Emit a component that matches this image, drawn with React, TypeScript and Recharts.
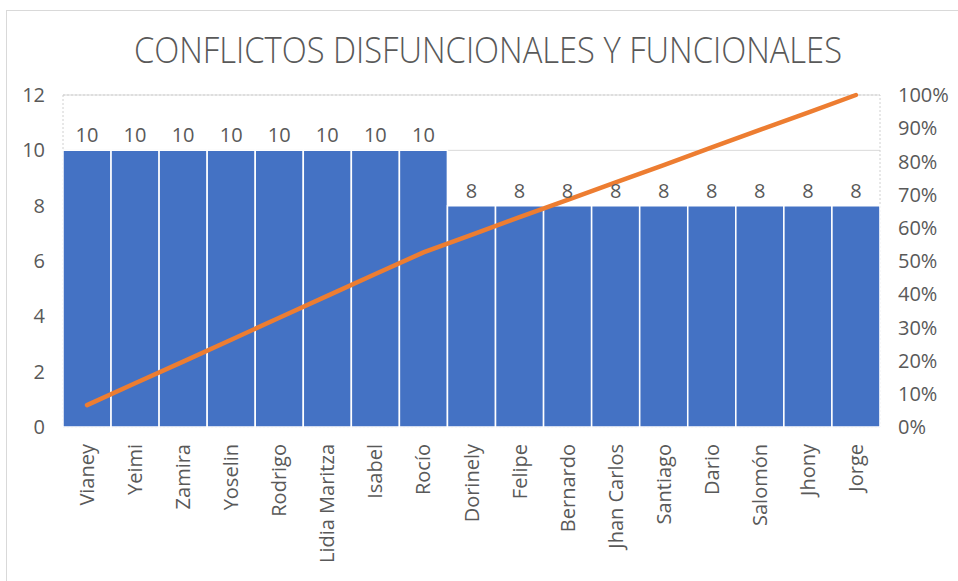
import React from 'react';
import { ComposedChart, Bar, Line, XAxis, YAxis, CartesianGrid, LabelList, ReferenceArea } from 'recharts';

const categories = ['Vianey', 'Yeimi', 'Zamira', 'Yoselin', 'Rodrigo', 'Lidia Maritza', 'Isabel', 'Rocío', 'Dorinely', 'Felipe', 'Bernardo', 'Jhan Carlos', 'Santiago', 'Dario', 'Salomón', 'Jhony', 'Jorge'];
const conflictValues = [10, 10, 10, 10, 10, 10, 10, 10, 8, 8, 8, 8, 8, 8, 8, 8, 8];
const cumulativePct = [6.6, 13.2, 19.7, 26.3, 32.9, 39.5, 46.1, 52.6, 57.9, 63.2, 68.4, 73.7, 78.9, 84.2, 89.5, 94.7, 100];
const leftTicks = [0, 2, 4, 6, 8, 10, 12];
const rightTicks = [0, 10, 20, 30, 40, 50, 60, 70, 80, 90, 100];
const title = 'CONFLICTOS DISFUNCIONALES Y FUNCIONALES';

const data = categories.map((name, i) => ({ name, value: conflictValues[i], pct: cumulativePct[i] }));

const FONT = '"Open Sans", sans-serif';
const TEXT = '#595959';

const XTick = (props: any) => {
  const { x, y, payload } = props;
  return (
    <g transform={`translate(${x},${y})`}>
      <text transform="rotate(-90)" textAnchor="end" dy="0.35em" fill={TEXT} fontSize={20} fontFamily={FONT}>
        {payload.value}
      </text>
    </g>
  );
};

export default function App() {
  return (
    <div style={{ position: 'absolute', left: 0, top: 0, width: 958, height: 581, overflow: 'hidden', background: '#fff' }}>
      <div style={{ position: 'absolute', left: 6, top: 10, width: 1100, height: 800, border: '1.5px solid #d9d9d9', boxSizing: 'border-box' }} />
      <svg style={{ position: 'absolute', left: 0, top: 0 }} width={958} height={90}>
        <text x={488} y={63} textAnchor="middle" textLength={708} lengthAdjust="spacingAndGlyphs" fontFamily='"Open Sans", sans-serif' fontWeight={300} fontSize={36} fill={TEXT}>
          {title}
        </text>
      </svg>
      <div style={{ position: 'absolute', left: 0, top: 0 }}>
        <ComposedChart width={958} height={581} data={data} barCategoryGap={0} margin={{ top: 95, right: 8, left: 8, bottom: 8 }}>
          <CartesianGrid vertical={false} stroke="#d9d9d9" strokeWidth={1} yAxisId="left" />
          <ReferenceArea yAxisId="left" y1={0} y2={12} fill="none" stroke="#d0d0d0" strokeDasharray="2 2" strokeWidth={1} ifOverflow="visible" />
          <XAxis dataKey="name" axisLine={false} tickLine={false} tickSize={0} tickMargin={17} height={146} interval={0} tick={<XTick />} />
          <YAxis yAxisId="left" orientation="left" domain={[0, 12]} ticks={leftTicks} axisLine={false} tickLine={false} tickSize={0} tickMargin={18} width={55} tick={{ fill: TEXT, fontSize: 20, fontFamily: FONT }} />
          <YAxis yAxisId="right" orientation="right" domain={[0, 100]} ticks={rightTicks} axisLine={false} tickLine={false} tickSize={0} tickMargin={18} width={70} tickFormatter={(v: number) => `${v}%`} tick={{ fill: TEXT, fontSize: 20, fontFamily: FONT, textAnchor: 'start' }} />
          <Bar yAxisId="left" dataKey="value" fill="#4472C4" stroke="#ffffff" strokeWidth={1.5} isAnimationActive={false}>
            <LabelList dataKey="value" position="top" offset={8} fill={TEXT} fontSize={20} fontFamily={FONT} />
          </Bar>
          <Line yAxisId="right" type="linear" dataKey="pct" stroke="#ED7D31" strokeWidth={4.5} strokeLinecap="round" dot={false} activeDot={false} isAnimationActive={false} />
        </ComposedChart>
      </div>
    </div>
  );
}
